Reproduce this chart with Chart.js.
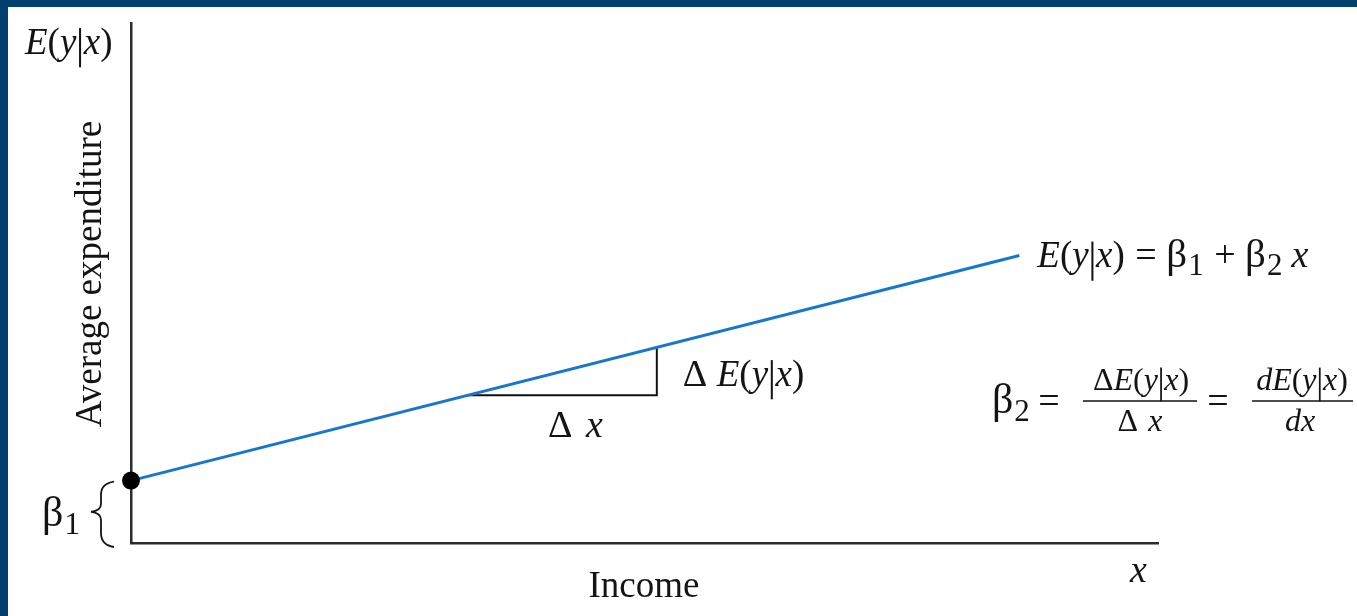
<!DOCTYPE html>
<html>
<head>
<meta charset="utf-8">
<title>Population regression function</title>
<script src="https://cdn.jsdelivr.net/npm/chart.js@4.4.1/dist/chart.umd.min.js"></script>
<style>
  html, body { margin: 0; padding: 0; background: #ffffff; }
  #wrap { width: 1357px; height: 616px; position: relative; }
  canvas { display: block; }
</style>
</head>
<body>
<div id="wrap"><canvas id="prf" width="1357" height="616"></canvas></div>
<script>
// Axis extents (income on x, average expenditure on y)
const X_MAX = 10;
const Y_MAX = 10;

// Regression line E(y|x) = b1 + b2 x, from the intercept to its right end
const lineIncome = [0, 8.65];
const lineExpenditure = [1.2, 5.53];

// Slope triangle: run (delta x) then rise (delta E(y|x))
const triangleIncome = [3.27, 5.12, 5.12];
const triangleExpenditure = [2.84, 2.84, 3.76];

const SERIF = '"Liberation Serif", "Times New Roman", serif';
const INK = '#141414';
const BLUE = '#1877cc';
const NAVY = '#023f6c';

function font(size, italic) {
  return (italic ? 'italic ' : '') + size + 'px ' + SERIF;
}

// Draws a run of text pieces (italic variables, subscripts, the conditional bar)
function measureRuns(ctx, parts) {
  let w = 0;
  for (const p of parts) {
    ctx.font = font(p.size, p.it);
    w += (p.gap || 0) + ctx.measureText(p.t).width;
  }
  return w;
}
function drawRuns(ctx, x, y, parts, align) {
  const w = measureRuns(ctx, parts);
  let cx = align === 'center' ? x - w / 2 : x;
  ctx.textAlign = 'left';
  ctx.textBaseline = 'alphabetic';
  ctx.fillStyle = INK;
  for (const p of parts) {
    cx += p.gap || 0;
    ctx.font = font(p.size, p.it);
    const tw = ctx.measureText(p.t).width;
    if (p.bar) {
      ctx.save();
      ctx.strokeStyle = INK;
      ctx.lineWidth = Math.max(1.6, p.size * 0.055);
      ctx.beginPath();
      ctx.moveTo(cx + tw / 2, y - p.size * 0.7);
      ctx.lineTo(cx + tw / 2, y + p.size * 0.36);
      ctx.stroke();
      ctx.restore();
    } else {
      ctx.fillText(p.t, cx, y + (p.dy || 0));
    }
    cx += tw;
  }
  return w;
}
// E(y|x) as a list of pieces
function condExp(size, prefix) {
  const parts = [];
  if (prefix) parts.push(...prefix);
  parts.push(
    { t: 'E', it: true, size },
    { t: '(', size },
    { t: 'y', it: true, size },
    { t: '|', bar: true, size },
    { t: 'x', it: true, size },
    { t: ')', size }
  );
  return parts;
}

const annotations = {
  id: 'annotations',
  beforeDraw(chart) {
    const ctx = chart.ctx;
    ctx.save();
    ctx.fillStyle = '#ffffff';
    ctx.fillRect(0, 0, chart.width, chart.height);
    ctx.fillStyle = NAVY;
    ctx.fillRect(0, 0, chart.width, 7);
    ctx.fillRect(0, 0, 8, chart.height);
    ctx.restore();
  },
  afterDraw(chart) {
    const ctx = chart.ctx;
    const xs = chart.scales.x, ys = chart.scales.y;
    ctx.save();

    // Axis names
    drawRuns(ctx, 25, 54, condExp(37), 'left');
    ctx.save();
    ctx.translate(101, 274);
    ctx.rotate(-Math.PI / 2);
    ctx.font = font(37, false);
    ctx.fillStyle = INK;
    ctx.textAlign = 'center';
    ctx.textBaseline = 'alphabetic';
    ctx.fillText('Average expenditure', 0, 0);
    ctx.restore();

    ctx.font = font(37, false);
    ctx.fillStyle = INK;
    ctx.textAlign = 'center';
    ctx.fillText('Income', 644, 597);
    ctx.textAlign = 'left';
    ctx.font = font(38, true);
    ctx.fillText('x', 1130, 582);

    // Intercept brace and beta_1
    const yIcpt = ys.getPixelForValue(lineExpenditure[0]);
    const yBase = ys.getPixelForValue(0);
    const mid = (yIcpt + yBase) / 2;
    ctx.strokeStyle = INK;
    ctx.lineWidth = 1.8;
    ctx.beginPath();
    ctx.moveTo(114, yIcpt + 1);
    ctx.quadraticCurveTo(101, yIcpt + 3, 101, yIcpt + 14);
    ctx.lineTo(101, mid - 8);
    ctx.quadraticCurveTo(101, mid - 1, 91, mid);
    ctx.quadraticCurveTo(101, mid + 1, 101, mid + 8);
    ctx.lineTo(101, yBase - 10);
    ctx.quadraticCurveTo(101, yBase + 2, 114, yBase + 4);
    ctx.stroke();
    drawRuns(ctx, 42, 526, [
      { t: 'β', size: 42 },
      { t: '1', size: 32, dy: 8, gap: 1 }
    ], 'left');

    // Line equation at the right end of the line
    const xEnd = xs.getPixelForValue(lineIncome[1]);
    const yEnd = ys.getPixelForValue(lineExpenditure[1]);
    drawRuns(ctx, xEnd + 18, yEnd + 12, condExp(37).concat([
      { t: ' = ', size: 38, gap: 1 },
      { t: 'β', size: 41 },
      { t: '1', size: 31, dy: 8, gap: 1 },
      { t: ' + ', size: 38, gap: 1 },
      { t: 'β', size: 41 },
      { t: '2', size: 31, dy: 8, gap: 1 },
      { t: ' ', size: 36 },
      { t: 'x', it: true, size: 38 }
    ]), 'left');

    // Slope triangle labels
    const xRise = xs.getPixelForValue(triangleIncome[2]);
    const yRun = ys.getPixelForValue(triangleExpenditure[0]);
    drawRuns(ctx, xRise + 26, 386, condExp(37, [{ t: 'Δ ', size: 38 }]), 'left');
    drawRuns(ctx, 548, yRun + 42, [
      { t: 'Δ ', size: 38 },
      { t: 'x', it: true, size: 38, gap: 4 }
    ], 'left');

    // Slope as a ratio and as a derivative
    drawRuns(ctx, 992, 413, [
      { t: 'β', size: 42 },
      { t: '2', size: 31, dy: 8, gap: 1 }
    ], 'left');
    ctx.font = font(38, false);
    ctx.textAlign = 'center';
    ctx.fillText('=', 1049, 413);
    ctx.fillText('=', 1218, 413);
    ctx.lineWidth = 1.6;
    ctx.beginPath();
    ctx.moveTo(1083, 401); ctx.lineTo(1197, 401);
    ctx.moveTo(1252, 401); ctx.lineTo(1353, 401);
    ctx.stroke();
    drawRuns(ctx, 1141, 390, condExp(32, [{ t: 'Δ', size: 32 }]), 'center');
    drawRuns(ctx, 1140, 431, [
      { t: 'Δ ', size: 32 },
      { t: 'x', it: true, size: 32, gap: 2 }
    ], 'center');
    drawRuns(ctx, 1302, 390, condExp(32, [{ t: 'd', it: true, size: 32 }]), 'center');
    drawRuns(ctx, 1300, 431, [
      { t: 'd', it: true, size: 32 },
      { t: 'x', it: true, size: 32 }
    ], 'center');

    ctx.restore();
  }
};

const toPoints = (xs, ys) => xs.map((x, i) => ({ x, y: ys[i] }));

new Chart(document.getElementById('prf'), {
  type: 'scatter',
  data: {
    datasets: [
      {
        label: 'E(y|x)',
        data: toPoints(lineIncome, lineExpenditure),
        showLine: true,
        borderColor: BLUE,
        borderWidth: 3,
        pointRadius: lineIncome.map((_, i) => (i === 0 ? 9 : 0)),
        pointBackgroundColor: '#000000',
        pointBorderWidth: 0,
        clip: false,
        order: 1
      },
      {
        label: 'slope',
        data: toPoints(triangleIncome, triangleExpenditure),
        showLine: true,
        borderColor: '#111111',
        borderWidth: 2,
        pointRadius: 0,
        clip: false,
        order: 2
      }
    ]
  },
  options: {
    responsive: false,
    animation: false,
    events: [],
    layout: { padding: { left: 131, top: 23, right: 199, bottom: 73 } },
    plugins: { legend: { display: false }, tooltip: { enabled: false } },
    scales: {
      x: {
        type: 'linear', min: 0, max: X_MAX,
        grid: { display: false, drawTicks: false },
        ticks: { display: false },
        border: { display: true, color: '#2b2b2b', width: 2.5 }
      },
      y: {
        type: 'linear', min: 0, max: Y_MAX,
        grid: { display: false, drawTicks: false },
        ticks: { display: false },
        border: { display: true, color: '#2b2b2b', width: 2.5 }
      }
    }
  },
  plugins: [annotations]
});
</script>
</body>
</html>
